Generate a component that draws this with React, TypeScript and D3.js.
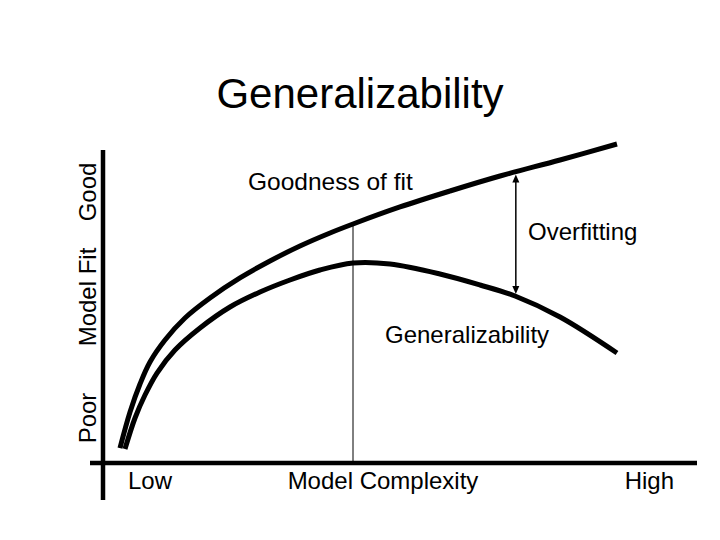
import React from "react";
import * as d3 from "d3";

// Model complexity (0-100) vs model fit (0-100)
const fitX = [2.86, 4.55, 6.23, 7.91, 10.44, 13.8, 18.01, 23.06, 28.11, 33.16, 38.22, 42.09, 50.0, 58.42, 66.84, 76.94, 86.53];
const fitY = [4.64, 15.79, 24.46, 31.27, 38.08, 44.89, 51.08, 57.28, 62.54, 67.18, 71.21, 73.99, 79.26, 84.21, 88.85, 93.81, 98.76];

const genX = [3.7, 5.39, 7.07, 9.09, 12.12, 16.33, 21.38, 26.43, 31.48, 36.53, 42.09, 48.32, 56.73, 63.47, 69.36, 76.94, 86.53];
const genY = [4.33, 13.93, 21.05, 27.86, 34.98, 41.8, 48.3, 52.94, 56.66, 59.75, 61.92, 61.61, 58.51, 55.11, 51.7, 45.2, 34.06];

const peakX = 42.09;
const peakFit = 73.99;
const arrowX = 69.5;
const arrowTop = 89.6;
const arrowBottom = 52.0;

const xTickLabels = ["Low", "Model Complexity", "High"];
const yTickLabels = ["Poor", "Model Fit", "Good"];
const title = "Generalizability";
const fitLabel = "Goodness of fit";
const genLabel = "Generalizability";
const overLabel = "Overfitting";

const FONT = "'Liberation Sans', Arial, Helvetica, sans-serif";

export default function App() {
  const W = 720, H = 540;
  const x = d3.scaleLinear().domain([0, 100]).range([103, 697]);
  const y = d3.scaleLinear().domain([0, 100]).range([463, 140]);

  const line = d3
    .line<[number, number]>()
    .x((d) => x(d[0]))
    .y((d) => y(d[1]))
    .curve(d3.curveCatmullRom.alpha(0.5));

  const fitPts: [number, number][] = fitX.map((v, i) => [v, fitY[i]]);
  const genPts: [number, number][] = genX.map((v, i) => [v, genY[i]]);

  const ax = x(arrowX);
  const aT = y(arrowTop) + 1;
  const aB = y(arrowBottom) - 1;
  const ah = 8, aw = 3.5;

  return (
    <svg width={W} height={H} style={{ position: "absolute", left: 0, top: 0, background: "#fff" }}>
      <rect x={0} y={0} width={W} height={H} fill="#fff" />
      <text x={360} y={108} textAnchor="middle" fontFamily={FONT} fontSize={42} fill="#000">
        {title}
      </text>

      {/* axes */}
      <line x1={x(0)} x2={x(0)} y1={150} y2={500} stroke="#000" strokeWidth={4.5} />
      <line x1={90} x2={697} y1={y(0)} y2={y(0)} stroke="#000" strokeWidth={4.5} />

      {/* vertical peak line */}
      <line x1={x(peakX)} x2={x(peakX)} y1={y(peakFit)} y2={y(0)} stroke="#000" strokeWidth={1} />

      {/* curves */}
      <path d={line(fitPts) || ""} fill="none" stroke="#000" strokeWidth={5} />
      <path d={line(genPts) || ""} fill="none" stroke="#000" strokeWidth={5} />

      {/* double arrow */}
      <line x1={ax} x2={ax} y1={aT + 4} y2={aB - 4} stroke="#000" strokeWidth={1.5} />
      <path d={`M${ax},${aT} L${ax - aw},${aT + ah} L${ax + aw},${aT + ah} Z`} fill="#000" />
      <path d={`M${ax},${aB} L${ax - aw},${aB - ah} L${ax + aw},${aB - ah} Z`} fill="#000" />

      {/* labels */}
      <text x={248} y={190} fontFamily={FONT} fontSize={24.5} fill="#000">{fitLabel}</text>
      <text x={528} y={240} fontFamily={FONT} fontSize={24} fill="#000">{overLabel}</text>
      <text x={385} y={343} fontFamily={FONT} fontSize={24} fill="#000">{genLabel}</text>

      <text x={128} y={489} fontFamily={FONT} fontSize={24} fill="#000">{xTickLabels[0]}</text>
      <text x={383} y={489} textAnchor="middle" fontFamily={FONT} fontSize={24} fill="#000">{xTickLabels[1]}</text>
      <text x={674} y={489} textAnchor="end" fontFamily={FONT} fontSize={24} fill="#000">{xTickLabels[2]}</text>

      <text transform="translate(96,418) rotate(-90)" textAnchor="middle" fontFamily={FONT} fontSize={24} fill="#000">{yTickLabels[0]}</text>
      <text transform="translate(96,297) rotate(-90)" textAnchor="middle" fontFamily={FONT} fontSize={24} fill="#000">{yTickLabels[1]}</text>
      <text transform="translate(96,192) rotate(-90)" textAnchor="middle" fontFamily={FONT} fontSize={24} fill="#000">{yTickLabels[2]}</text>
    </svg>
  );
}
